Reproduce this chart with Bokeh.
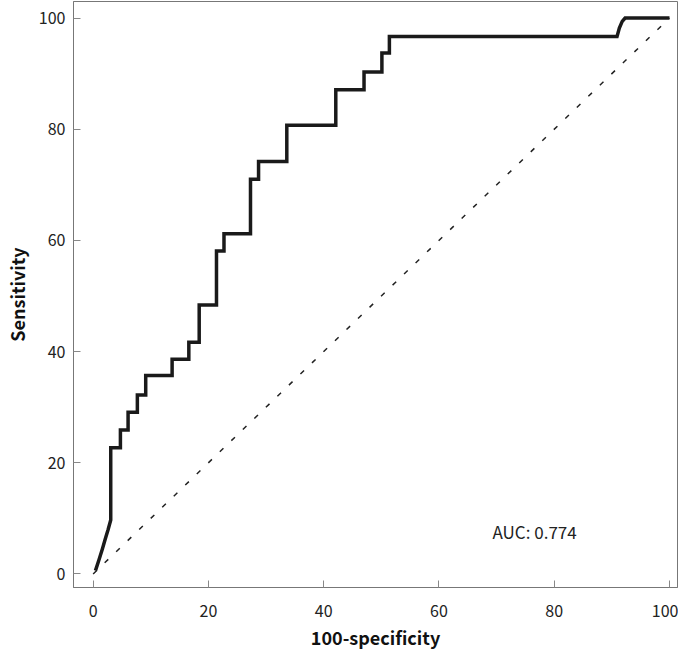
from bokeh.plotting import figure
from bokeh.models import Range1d, FixedTicker, Label
from bokeh.embed import file_html
from bokeh.resources import INLINE

# ROC curve vertices (100-specificity, sensitivity)
fpr = [0.4, 1.0, 1.6, 2.1, 2.6, 3.05, 3.05, 4.73, 4.73, 6.06, 6.06, 7.67, 7.67, 9.12, 9.12,
       13.7, 13.7, 16.6, 16.6, 18.4, 18.4, 21.4, 21.4, 22.7, 22.7, 27.3, 27.3, 28.7, 28.7,
       33.6, 33.6, 42.1, 42.1, 47.0, 47.0, 50.1, 50.1, 51.4, 51.4, 90.9, 91.3, 91.8, 92.3, 100.0]
tpr = [0.6, 2.5, 4.5, 6.3, 8.0, 9.7, 22.7, 22.7, 25.9, 25.9, 29.1, 29.1, 32.2, 32.2, 35.7,
       35.7, 38.6, 38.6, 41.7, 41.7, 48.4, 48.4, 58.1, 58.1, 61.2, 61.2, 71.0, 71.0, 74.2,
       74.2, 80.7, 80.7, 87.1, 87.1, 90.3, 90.3, 93.7, 93.7, 96.7, 96.7, 98.2, 99.4, 100.0, 100.0]
ref_x = [0, 100]
ref_y = [0, 100]
ticks = [0, 20, 40, 60, 80, 100]
auc_text = "AUC: 0.774"

FONT = "Noto Sans CJK KR"

p = figure(width=678, height=652, output_backend="svg", toolbar_location=None,
           x_range=Range1d(-3.41, 101.39), y_range=Range1d(-2.44, 102.98),
           min_border_left=72, min_border_right=1, min_border_top=1, min_border_bottom=60)

p.grid.visible = False
p.outline_line_color = "#777777"
p.outline_line_width = 1
p.background_fill_color = "white"
p.border_fill_color = "white"

for ax in (p.xaxis[0], p.yaxis[0]):
    ax.ticker = FixedTicker(ticks=ticks)
    ax.minor_tick_line_color = None
    ax.major_tick_in = 7
    ax.major_tick_out = 0
    ax.major_tick_line_color = "#888888"
    ax.axis_line_color = "#777777"
    ax.major_label_text_font = FONT
    ax.major_label_text_font_size = "16px"
    ax.major_label_text_color = "#222222"
    ax.axis_label_text_font = FONT
    ax.axis_label_text_font_size = "18px"
    ax.axis_label_text_font_style = "bold"
    ax.axis_label_text_color = "#111111"

p.xaxis.axis_label = "100-specificity"
p.yaxis.axis_label = "Sensitivity"
p.xaxis.major_label_standoff = 17
p.yaxis.major_label_standoff = 8
p.xaxis.axis_label_standoff = 4
p.yaxis.axis_label_standoff = 6

p.line(ref_x, ref_y, line_color="#222222", line_width=1.5, line_dash="5 11")
p.line(fpr, tpr, line_color="#1a1a1a", line_width=3.5, line_join="miter")

p.add_layout(Label(x=69.3, y=7.7, text=auc_text, text_font=FONT, text_font_size="17px",
                   text_color="#222222", text_align="left", text_baseline="middle"))

open("out.html", "w").write(file_html(p, INLINE))
